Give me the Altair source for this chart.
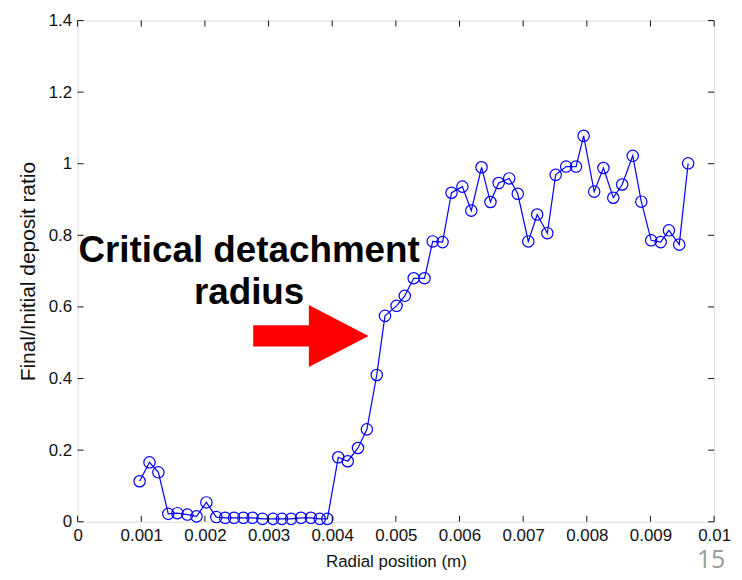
import altair as alt
import pandas as pd

# ---- data ----
radial = [0.000974, 0.001129, 0.001269, 0.001424, 0.001568, 0.001724, 0.001868, 0.002023,
          0.002179, 0.002318, 0.002458, 0.002604, 0.002748, 0.002904, 0.003070, 0.003210,
          0.003354, 0.003509, 0.003665, 0.003804, 0.003924,
          0.004095, 0.004244, 0.004405, 0.004545, 0.004700, 0.004829, 0.005011, 0.005140,
          0.005280, 0.005450, 0.005579, 0.005734, 0.005874, 0.006045, 0.006185, 0.006346,
          0.006486, 0.006615, 0.006781, 0.006915, 0.007081, 0.007220, 0.007380, 0.007511,
          0.007675, 0.007831, 0.007950, 0.008116, 0.008261, 0.008416, 0.008556, 0.008722,
          0.008856, 0.009011, 0.009161, 0.009290, 0.009452, 0.009592]
ratio = [0.113, 0.166, 0.138, 0.022, 0.024, 0.020, 0.015, 0.054,
         0.013, 0.011, 0.011, 0.011, 0.011, 0.008, 0.008, 0.008,
         0.008, 0.011, 0.011, 0.008, 0.008,
         0.180, 0.169, 0.206, 0.258, 0.410, 0.575, 0.603, 0.631,
         0.680, 0.680, 0.783, 0.781, 0.919, 0.936, 0.869, 0.990,
         0.893, 0.946, 0.959, 0.916, 0.783, 0.858, 0.806, 0.969,
         0.992, 0.992, 1.078, 0.922, 0.988, 0.905, 0.942, 1.022,
         0.894, 0.786, 0.781, 0.814, 0.774, 1.001]

x_ticks = [0, 0.001, 0.002, 0.003, 0.004, 0.005, 0.006, 0.007, 0.008, 0.009, 0.01]
y_ticks = [0, 0.2, 0.4, 0.6, 0.8, 1.0, 1.2, 1.4]

note_text = ["Critical detachment", "radius"]
note_x = [0.002694, 0.002694]
note_y = [0.725, 0.607]

arrow_x = [0.003665]
arrow_y = [0.519]

W, H = 640, 504
FONT = "Liberation Sans"

df = pd.DataFrame({"r": radial, "v": ratio})
xt = pd.DataFrame({"r": x_ticks})
yt = pd.DataFrame({"v": y_ticks})
notes = pd.DataFrame({"r": note_x, "v": note_y, "text": note_text})
arrow = pd.DataFrame({"r": arrow_x, "v": arrow_y})

xs = alt.Scale(domain=[0, 0.01], nice=False, zero=False)
ys = alt.Scale(domain=[0, 1.4], nice=False, zero=False)

x_axis = alt.Axis(values=x_ticks, format="~g", tickSize=0, grid=False, domain=False,
                  labelFont=FONT, labelFontSize=17, labelColor="#111", labelPadding=6,
                  labelFlush=False, labelOverlap=False,
                  title="Radial position (m)", titleFont=FONT, titleFontSize=17,
                  titleFontWeight="normal", titleColor="#111", titlePadding=10)
y_axis = alt.Axis(values=y_ticks, format="~g", tickSize=0, grid=False, domain=False,
                  labelFont=FONT, labelFontSize=17, labelColor="#111", labelPadding=6,
                  labelFlush=False, labelOverlap=False,
                  title="Final/Initial deposit ratio", titleFont=FONT, titleFontSize=21,
                  titleFontWeight="normal", titleColor="#111", titlePadding=10)

X = alt.X("r:Q", scale=xs, axis=x_axis)
Y = alt.Y("v:Q", scale=ys, axis=y_axis)

line = alt.Chart(df).mark_line(color="#0000ff", strokeWidth=1.2).encode(x=X, y=Y)
pts = alt.Chart(df).mark_point(shape="circle", filled=False, color="#0000ff",
                               size=130, strokeWidth=1.2, opacity=1).encode(x=X, y=Y)

tick_style = dict(color="#111", strokeWidth=1)
bottom_ticks = alt.Chart(xt).mark_rule(**tick_style).encode(
    x=X, y=alt.value(H), y2=alt.value(H - 6))
top_ticks = alt.Chart(xt).mark_rule(**tick_style).encode(
    x=X, y=alt.value(0), y2=alt.value(6))
left_ticks = alt.Chart(yt).mark_rule(**tick_style).encode(
    y=Y, x=alt.value(0), x2=alt.value(6))
right_ticks = alt.Chart(yt).mark_rule(**tick_style).encode(
    y=Y, x=alt.value(W - 6), x2=alt.value(W))

note_layer = alt.Chart(notes).mark_text(font=FONT, fontSize=37, fontWeight="bold",
                                        color="black", align="center",
                                        baseline="alphabetic").encode(
    x=X, y=Y, text="text:N")

arrow_path = ("M -1 -0.184 L -0.035 -0.184 L -0.035 -0.537 L 1 0 "
              "L -0.035 0.537 L -0.035 0.184 L -1 0.184 Z")
arrow_layer = alt.Chart(arrow).mark_point(shape=arrow_path, filled=True, fill="#ff0000",
                                          stroke="#ff0000", strokeWidth=0, opacity=1,
                                          size=116 * 116).encode(x=X, y=Y)

page_num = alt.Chart(pd.DataFrame({"n": ["15"]})).mark_text(
    font="Open Sans", fontSize=25, color="#9a9a9a", align="center",
    baseline="alphabetic").encode(
    x=alt.value(637), y=alt.value(551), text="n:N")

chart = alt.layer(line, pts, bottom_ticks, top_ticks, left_ticks, right_ticks,
                  note_layer, arrow_layer, page_num).properties(
    width=W, height=H,
    autosize=alt.AutoSizeParams(type="none"),
    padding={"left": 70, "top": 11, "right": 20, "bottom": 56},
).configure_view(stroke="#222", strokeWidth=1.2).configure(background="white")

chart.save("out.html", embed_options={"renderer": "svg", "actions": False})
